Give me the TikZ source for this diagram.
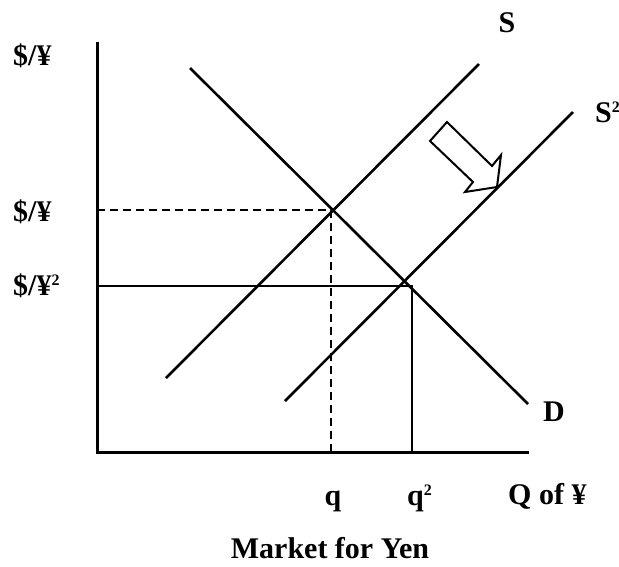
\documentclass[tikz,border=0pt]{standalone}
\usepackage{fontspec}
\setmainfont{Liberation Serif}
\newcommand{\exptwo}{\raisebox{10pt}{\fontsize{16}{16}\selectfont 2}}
\begin{document}
\begin{tikzpicture}[x=1pt,y=-1pt,
    lbl/.style={font=\fontsize{30}{34}\selectfont\bfseries, inner sep=0pt},
    curve/.style={line width=2.6pt},
    guide/.style={line width=1.8pt}]
    \useasboundingbox (0,0) rectangle (619,566);

    % Axes
    \coordinate (top) at (97,42);
    \coordinate (origin) at (97,452);
    \coordinate (right) at (529,452);
    \draw[line width=3pt] (top) -- (origin) -- (right);

    % Demand and the two supply curves
    \coordinate (d1) at (190,68);
    \coordinate (d2) at (528,404);
    \coordinate (s1) at (166,378);
    \coordinate (s2) at (479,64);
    \coordinate (t1) at (285,401);
    \coordinate (t2) at (573,112);
    \draw[curve] (d1) -- (d2);
    \draw[curve] (s1) -- (s2);
    \draw[curve] (t1) -- (t2);

    % Old equilibrium (dashed)
    \coordinate (e1) at (331,210);
    \draw[curve, dash pattern=on 8pt off 5pt] (97,210) -- (e1) -- (331,452);

    % New equilibrium (solid)
    \coordinate (e2) at (412,286);
    \draw[guide] (97,286) -- (e2) -- (412,452);

    % Shift arrow (hollow)
    \draw[line width=2pt, line join=miter, fill=white]
        (447,122) -- (430,141) -- (473,182) -- (465,192) -- (497,187)
        -- (501,155) -- (492,166) -- cycle;

    % Labels
    \node[lbl, anchor=base west] (py) at (13,65) {\$/¥};
    \node[lbl, anchor=base west] (p1) at (13,221) {\$/¥};
    \node[lbl, anchor=base west] (p2) at (13,295) {\$/¥\exptwo};
    \node[lbl, anchor=base] (sl) at (507,32) {S};
    \node[lbl, anchor=base west] (tl) at (595,122) {S\exptwo};
    \node[lbl, anchor=base west] (dl) at (543,421) {D};
    \node[lbl, anchor=base] (ql) at (333,505) {q};
    \node[lbl, anchor=base west] (q2l) at (407,505) {q\exptwo};
    \node[lbl, anchor=base west] (qx) at (508,504) {Q of ¥};
    \node[lbl, anchor=base] (title) at (330,558) {Market for Yen};
\end{tikzpicture}
\end{document}
